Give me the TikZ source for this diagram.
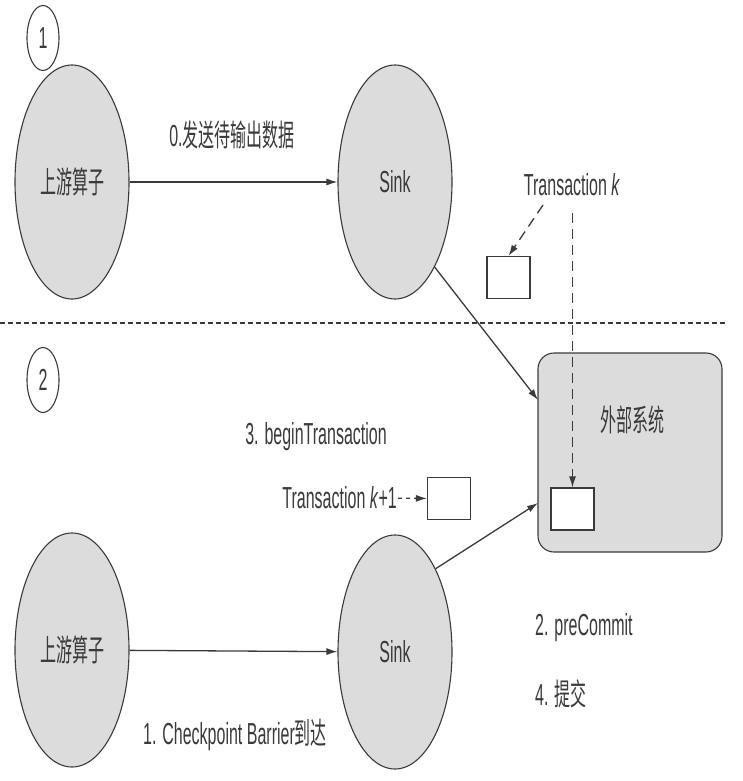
\documentclass[tikz,border=0pt]{standalone}
\usepackage{fontspec}
\usepackage{graphicx}
\setmainfont{Liberation Sans}
\newfontfamily\cjk{Noto Sans CJK SC}
\usetikzlibrary{arrows.meta,shapes.geometric}
\newcommand{\tall}[1]{\scalebox{1}[1.9]{#1}}
\definecolor{oval}{HTML}{DCDCDC}
\definecolor{ink}{HTML}{3A3A3A}
\tikzset{
  lbl/.style={text=ink, inner sep=1bp, font=\fontsize{16bp}{19bp}\selectfont},
  op/.style={lbl, draw=ink, line width=1.1bp, fill=oval, ellipse, minimum width=114bp, minimum height=234bp, inner sep=0pt},
  stage/.style={lbl, draw=ink, line width=1.1bp, ellipse, minimum width=32bp, minimum height=65bp, inner sep=0pt},
  sysbox/.style={draw=ink, line width=1.1bp, fill=oval, rounded corners=16bp, minimum width=184bp, minimum height=199bp},
  txn/.style={draw=ink, line width=1.1bp, fill=white, minimum width=43bp, minimum height=42bp, inner sep=0pt},
  flow/.style={draw=ink, line width=1.3bp, -{Latex[length=11bp,width=7bp]}},
  hint/.style={flow, dash pattern=on 10bp off 6bp},
}
\begin{document}
\begin{tikzpicture}[x=1bp, y=-1bp]
\useasboundingbox (0,0) rectangle (743,781);
% phase 1
\node[stage] (num1) at (43,38) {\tall{1}};
\node[op] (up1) at (72,182) {\tall{\cjk 上游算子}};
\node[op] (sink1) at (395,182) {\tall{Sink}};
\node[lbl] (send) at (232,135) {\tall{0.{\cjk 发送待输出数据}}};
\node[lbl] (tk) at (572,185) {\tall{Transaction \textit{k}}};
\node[txn] (boxk) at (508.5,277.5) {};
\coordinate (tkfoot) at (543,205);
\coordinate (tkdrop) at (572.5,213);
\draw[flow] (up1) -- (sink1);
\draw[hint] (tkfoot) -- (boxk.north);

% separator
\draw[ink, line width=1.3bp, dash pattern=on 5bp off 3bp] (0,323) -- (728,323);

% phase 2
\node[stage] (num2) at (43,380) {\tall{2}};
\node[sysbox] (ext) at (630,452.5) {};
\node[lbl] (extname) at (632,420) {\tall{\cjk 外部系统}};
\node[txn] (boxk2) at (572.5,509) {};
\node[op] (up2) at (72,650) {\tall{\cjk 上游算子}};
\node[op] (sink2) at (395,652) {\tall{Sink}};
\node[lbl] (begin) at (316,437) {\tall{3. beginTransaction}};
\node[txn] (boxk1) at (449,498.5) {};
\node[lbl, anchor=east] (tk1) at (398,498) {\tall{Transaction \textit{k}+1}};
\node[lbl] (barrier) at (235,735) {\tall{1. Checkpoint Barrier{\cjk 到达}}};
\node[lbl, anchor=west] (precommit) at (534,628) {\tall{2. preCommit}};
\node[lbl, anchor=west] (commit) at (534,694) {\tall{4. {\cjk 提交}}};
\coordinate (extin1) at (538,400);
\coordinate (extin2) at (538,503);

\draw[flow] (up2) -- (sink2);
\draw[flow] (sink1.-65) -- (extin1);
\draw[flow] (sink2.64) -- (extin2);
\draw[hint] (tkdrop) -- (boxk2.north);
\draw[flow, dash pattern=on 4bp off 4bp] (tk1) -- (boxk1);
\end{tikzpicture}
\end{document}
